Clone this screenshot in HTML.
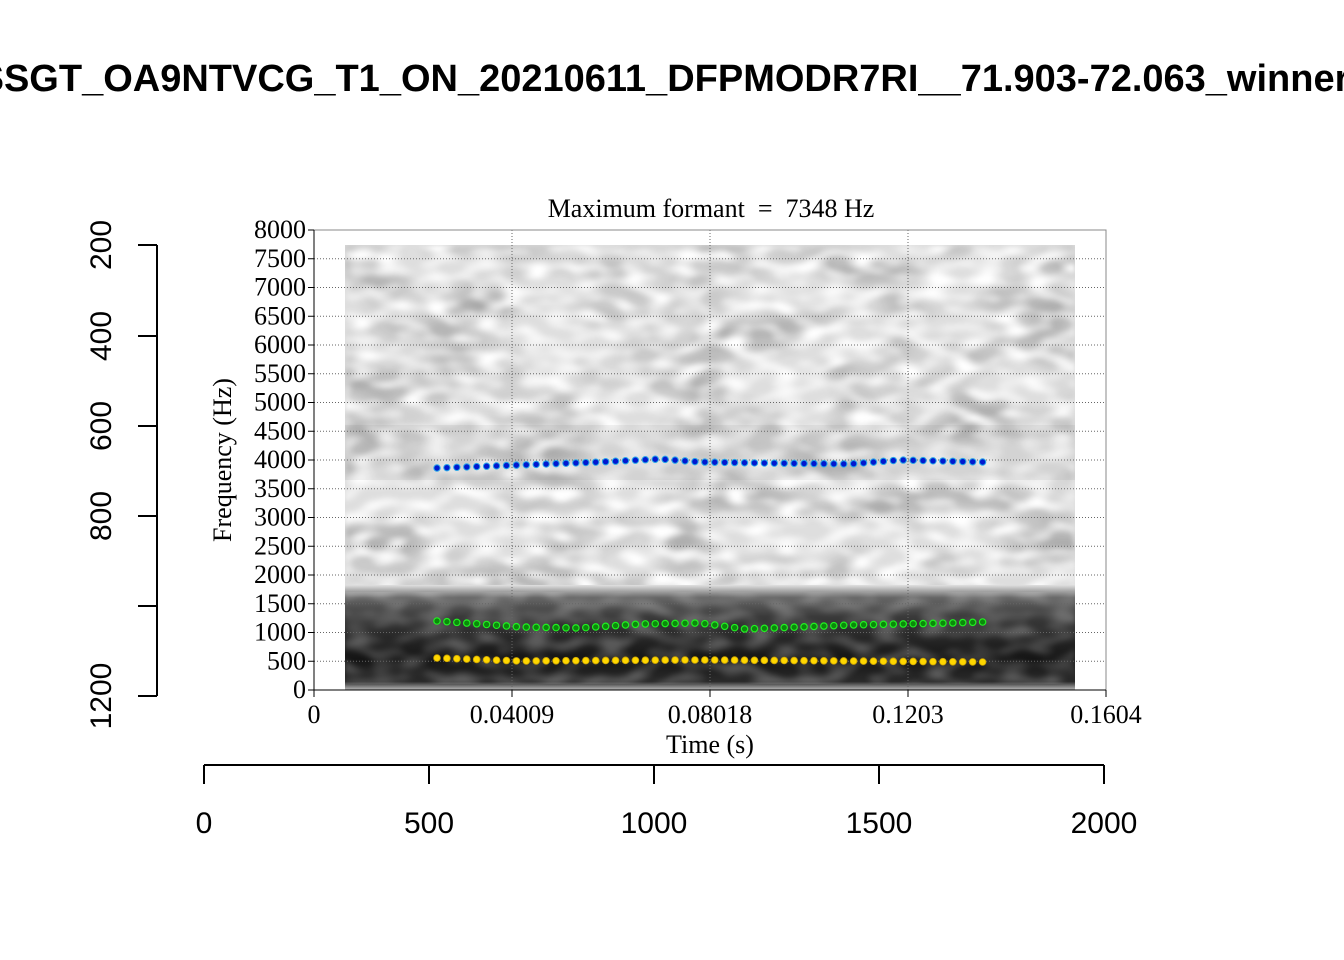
<!DOCTYPE html>
<html><head><meta charset="utf-8"><style>
html,body{margin:0;padding:0;background:#fff;overflow:hidden}
svg{display:block}
.s{font-family:"Liberation Serif",serif;font-size:26px;fill:#000}
.a{font-family:"Liberation Sans",sans-serif;fill:#000}
</style></head><body>
<svg id="g" width="1344" height="960" viewBox="0 0 1344 960" xmlns="http://www.w3.org/2000/svg">
<defs>
<filter id="n1" x="0" y="0" width="100%" height="100%">
<feTurbulence type="fractalNoise" baseFrequency="0.012 0.025" numOctaves="2" seed="3"/>
<feColorMatrix type="matrix" values="0 0 0 0 0  0 0 0 0 0  0 0 0 0 0  1.8 0 0 0 -0.7"/>
<feGaussianBlur stdDeviation="3"/>
</filter>
<filter id="n2" x="0" y="0" width="100%" height="100%">
<feTurbulence type="fractalNoise" baseFrequency="0.04 0.08" numOctaves="1" seed="7"/>
<feColorMatrix type="matrix" values="0 0 0 0 1  0 0 0 0 1  0 0 0 0 1  3 0 0 0 -1.2"/>
<feGaussianBlur stdDeviation="2"/>
</filter>
<linearGradient id="band" x1="0" y1="0" x2="0" y2="1">
<stop offset="0" stop-color="#e0e0e0"/>
<stop offset="0.12" stop-color="#666"/>
<stop offset="0.3" stop-color="#3a3a3a"/>
<stop offset="0.7" stop-color="#151515"/>
<stop offset="0.92" stop-color="#2a2a2a"/>
<stop offset="1" stop-color="#bbb"/>
</linearGradient>
</defs>
<text x="664" y="91" text-anchor="middle" class="a" font-size="38" font-weight="bold">SSGT_OA9NTVCG_T1_ON_20210611_DFPMODR7RI__71.903-72.063_winner</text>
<text x="711" y="217" text-anchor="middle" class="s" font-size="28.5" xml:space="preserve">Maximum formant  =  7348 Hz</text>
<rect x="345" y="245" width="730" height="345" fill="#dedede"/>
<rect x="345" y="245" width="730" height="345" fill="#000" filter="url(#n1)" opacity="0.3"/>
<rect x="345" y="245" width="730" height="345" filter="url(#n2)"/>
<rect x="345" y="425" width="730" height="55" fill="#777" opacity="0.1"/>
<rect x="345" y="585" width="730" height="105" fill="url(#band)"/>
<rect x="345" y="592" width="730" height="92" fill="#fff" filter="url(#n2)" opacity="0.25"/>
<g id="grid" stroke="#666" stroke-width="1" stroke-dasharray="1,2"></g>
<rect x="314" y="230" width="792" height="460" fill="none" stroke="#888" stroke-width="1"/>
<line x1="314" y1="230" x2="314" y2="690" stroke="#000"/>
<line x1="314" y1="690" x2="1106" y2="690" stroke="#000"/>
<g id="yt"></g>
<g id="xt"></g>
<text class="s" transform="translate(231,460) rotate(-90)" text-anchor="middle" font-size="28">Frequency (Hz)</text>
<text class="s" x="710" y="753" text-anchor="middle" font-size="28.5">Time (s)</text>
<g id="dots"></g>
<g stroke="#000" stroke-width="2" fill="none">
<line x1="157" y1="245" x2="157" y2="696"/>
<line x1="138" y1="245" x2="157" y2="245"/><line x1="138" y1="336" x2="157" y2="336"/>
<line x1="138" y1="426" x2="157" y2="426"/><line x1="138" y1="516" x2="157" y2="516"/>
<line x1="138" y1="606" x2="157" y2="606"/><line x1="138" y1="696" x2="157" y2="696"/>
<line x1="204" y1="765" x2="1104" y2="765"/>
<line x1="204" y1="765" x2="204" y2="784"/><line x1="429" y1="765" x2="429" y2="784"/>
<line x1="654" y1="765" x2="654" y2="784"/><line x1="879" y1="765" x2="879" y2="784"/>
<line x1="1104" y1="765" x2="1104" y2="784"/>
</g>
<g class="a" font-size="30" text-anchor="middle">
<text transform="translate(111,245) rotate(-90)">200</text>
<text transform="translate(111,336) rotate(-90)">400</text>
<text transform="translate(111,426) rotate(-90)">600</text>
<text transform="translate(111,516) rotate(-90)">800</text>
<text transform="translate(111,696) rotate(-90)">1200</text>
<text x="204" y="833">0</text><text x="429" y="833">500</text><text x="654" y="833">1000</text>
<text x="879" y="833">1500</text><text x="1104" y="833">2000</text>
</g>
</svg>
<script>
var NS="http://www.w3.org/2000/svg";
function el(p,t,a,txt){var e=document.createElementNS(NS,t);for(var k in a)e.setAttribute(k,a[k]);if(txt)e.textContent=txt;document.getElementById(p).appendChild(e);return e;}
for(var i=0;i<=16;i++){var y=690-i*28.75;
 if(i>0&&i<16)el("grid","line",{x1:314,y1:y,x2:1106,y2:y});
 el("yt","line",{x1:308,y1:y,x2:314,y2:y,stroke:"#000"});
 el("yt","text",{x:306,y:y+8,"text-anchor":"end","class":"s"},String(i*500));}
var xs=[314,512,710,908,1106],xl=["0","0.04009","0.08018","0.1203","0.1604"];
for(var i=0;i<5;i++){ if(i>0&&i<4)el("grid","line",{x1:xs[i],y1:230,x2:xs[i],y2:690});
 el("xt","line",{x1:xs[i],y1:690,x2:xs[i],y2:697,stroke:"#000"});
 el("xt","text",{x:xs[i],y:723,"text-anchor":"middle","class":"s"},xl[i]);}
function interp(pts,x){for(var i=0;i<pts.length-1;i++){if(x<=pts[i+1][0]){var t=(x-pts[i][0])/(pts[i+1][0]-pts[i][0]);return pts[i][1]+t*(pts[i+1][1]-pts[i][1]);}}return pts[pts.length-1][1];}
var f3=[[437,468],[520,465],[600,462],[660,459],[700,462],[760,463],[850,464],[900,460],[982,462]];
var f2=[[437,621],[480,624],[520,627],[580,628],[640,624],[700,623],[745,629],[800,627],[850,625],[950,623],[982,622]];
var f1=[[437,658],[520,661],[680,660],[720,660],[982,662]];
for(var x=437;x<=983;x+=9.92){
 el("dots","circle",{cx:x,cy:interp(f3,x),r:3.2,fill:"#0018d0",stroke:"#29a8e8","stroke-width":1});
 el("dots","circle",{cx:x,cy:interp(f2,x),r:3.2,fill:"#0a8a0a",stroke:"#22ee22","stroke-width":1.2});
 el("dots","circle",{cx:x,cy:interp(f1,x),r:3.4,fill:"#ffd700",stroke:"#c8a000","stroke-width":0.8});
}
</script>
</body></html>
